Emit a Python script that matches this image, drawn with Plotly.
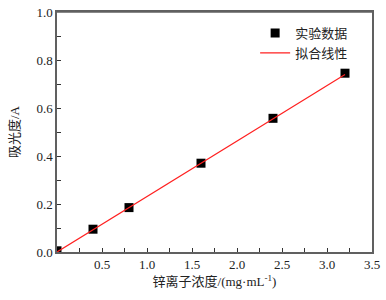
import plotly.graph_objects as go

conc = [0.0, 0.4, 0.8, 1.6, 2.4, 3.2]
absorb = [0.005, 0.095, 0.185, 0.37, 0.557, 0.745]
fit_x = [0.0, 3.2]
fit_y = [0.0, 0.74]
x_ticks = [0.5, 1.0, 1.5, 2.0, 2.5, 3.0, 3.5]
x_labels = ["0.5", "1.0", "1.5", "2.0", "2.5", "3.0", "3.5"]
y_ticks = [0.0, 0.2, 0.4, 0.6, 0.8, 1.0]
y_labels = ["0.0", "0.2", "0.4", "0.6", "0.8", "1.0"]

FONT = "Liberation Serif, Times New Roman, Noto Sans CJK SC, serif"
AX = "#606060"

fig = go.Figure()
fig.add_trace(go.Scatter(x=conc, y=absorb, mode="markers", name="实验数据",
                         marker=dict(symbol="square", size=9, color="black",
                                     line=dict(width=0))))
fig.add_trace(go.Scatter(x=fit_x, y=fit_y, mode="lines", name="拟合线性",
                         line=dict(color="#ff2020", width=1.2)))

axis_common = dict(showline=True, linecolor=AX, linewidth=1.5, mirror=True,
                   ticks="inside", ticklen=4, tickcolor="#333", tickwidth=1,
                   showgrid=False, zeroline=False, automargin=False,
                   ticklabeloverflow="allow",
                   tickfont=dict(family=FONT, size=13, color="#222"))

fig.update_xaxes(range=[0, 3.5], tickvals=x_ticks, ticktext=x_labels,
                 minor=dict(ticks="inside", ticklen=4, dtick=0.25, tick0=0,
                            tickcolor="#333", showgrid=False),
                 title=dict(text="锌离子浓度/(mg·mL<sup>-1</sup>)", standoff=6,
                            font=dict(family=FONT, size=13, color="#222")),
                 **axis_common)
fig.update_yaxes(range=[0, 1.0], tickvals=y_ticks, ticktext=y_labels,
                 minor=dict(ticks="inside", ticklen=4, dtick=0.1, tick0=0,
                            tickcolor="#333", showgrid=False),
                 title=dict(text="吸光度/A", standoff=14,
                            font=dict(family=FONT, size=13, color="#222")),
                 **axis_common)

# plot frame (top edge made explicit)
fig.add_shape(type="line", xref="paper", yref="paper", x0=0, x1=1, y0=1, y1=1,
              line=dict(color=AX, width=1.5), layer="above")

fig.update_layout(
    width=386, height=300,
    margin=dict(l=57, r=14, t=12, b=48),
    paper_bgcolor="white", plot_bgcolor="white",
    showlegend=True,
    legend=dict(x=0.629, y=0.975, xanchor="left", yanchor="top",
                bgcolor="rgba(0,0,0,0)", borderwidth=0,
                font=dict(family=FONT, size=13, color="#222"),
                itemwidth=30, tracegroupgap=0),
)

fig.write_html("out.html", config={"displayModeBar": False},
               post_script="document.body.style.margin='0';")
